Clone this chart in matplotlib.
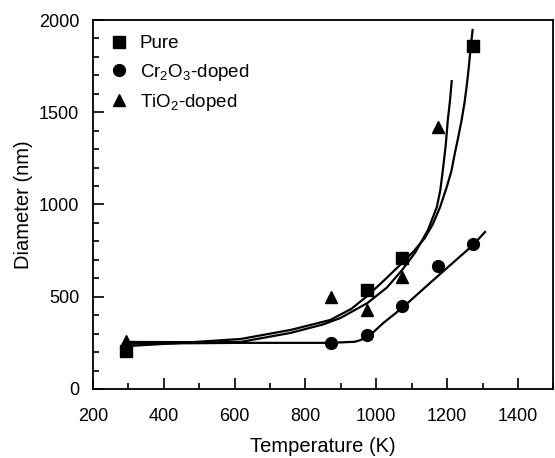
import matplotlib.pyplot as plt
from matplotlib.ticker import MultipleLocator

plt.rcParams['font.family'] = ['Liberation Sans', 'DejaVu Sans']
plt.rcParams['mathtext.fontset'] = 'custom'
plt.rcParams['mathtext.rm'] = 'Liberation Sans'

# measured points
temp = [293, 973, 1073, 1273]
pure = [206, 537, 710, 1859]
temp_cr = [873, 973, 1073, 1173, 1273]
cr2o3 = [249, 293, 450, 667, 786]
temp_ti = [293, 873, 973, 1073, 1173]
tio2 = [258, 499, 428, 607, 1420]

# fitted curves
fit_pure_t = [290, 450, 617, 758, 870, 930, 975, 1020, 1073, 1105, 1137, 1160, 1180, 1199,
              1212, 1222, 1232, 1241, 1249, 1255, 1261, 1266, 1272]
fit_pure_d = [232, 250, 271, 320, 374, 435, 505, 585, 683, 745, 818, 895, 985, 1095,
              1180, 1279, 1370, 1458, 1550, 1637, 1740, 1840, 1946]
fit_cr_t = [290, 617, 870, 940, 955, 975, 990, 1020, 1073, 1152, 1273, 1307]
fit_cr_d = [245, 250, 250, 256, 265, 282, 305, 358, 439, 575, 780, 851]
fit_ti_t = [290, 450, 617, 758, 850, 899, 975, 1030, 1073, 1110, 1146, 1171, 1181, 1188,
            1196, 1202, 1208, 1213]
fit_ti_d = [255, 254, 255, 304, 350, 385, 466, 550, 645, 740, 862, 986, 1080, 1187,
            1320, 1458, 1560, 1669]

fig = plt.figure(figsize=(5.55, 4.58), dpi=100)
ax = fig.add_axes([0.1676, 0.1507, 0.8294, 0.8056])

ax.plot(fit_pure_t, fit_pure_d, color='black', lw=1.6)
ax.plot(fit_cr_t, fit_cr_d, color='black', lw=1.6)
ax.plot(fit_ti_t, fit_ti_d, color='black', lw=1.6)

ax.plot(temp, pure, 's', color='black', ms=8, label='Pure')
ax.plot(temp_cr, cr2o3, 'o', color='black', ms=8.5, label='Cr$_2$O$_3$-doped')
ax.plot(temp_ti, tio2, '^', color='black', ms=8, label='TiO$_2$-doped')

ax.set_xlim(200, 1500)
ax.set_ylim(0, 2000)
ax.xaxis.set_major_locator(MultipleLocator(200))
ax.xaxis.set_minor_locator(MultipleLocator(100))
ax.yaxis.set_major_locator(MultipleLocator(500))
ax.yaxis.set_minor_locator(MultipleLocator(100))
ax.tick_params(which='both', direction='in', top=False, right=False, labelsize=13, width=1.2)
ax.tick_params(which='major', length=8)
ax.tick_params(which='minor', length=4)
ax.tick_params(axis='x', which='major', pad=14)
ax.tick_params(axis='y', which='major', pad=10)
for s in ax.spines.values():
    s.set_linewidth(1.3)

ax.set_xlabel('Temperature (K)', fontsize=14.5, labelpad=8)
ax.set_ylabel('Diameter (nm)', fontsize=14.5, labelpad=4)

ax.legend(loc='upper left', frameon=False, fontsize=13.5, handletextpad=0.5,
          labelspacing=0.5, borderaxespad=0.4, handlelength=1.2)

fig.savefig('out.png', dpi=100)
